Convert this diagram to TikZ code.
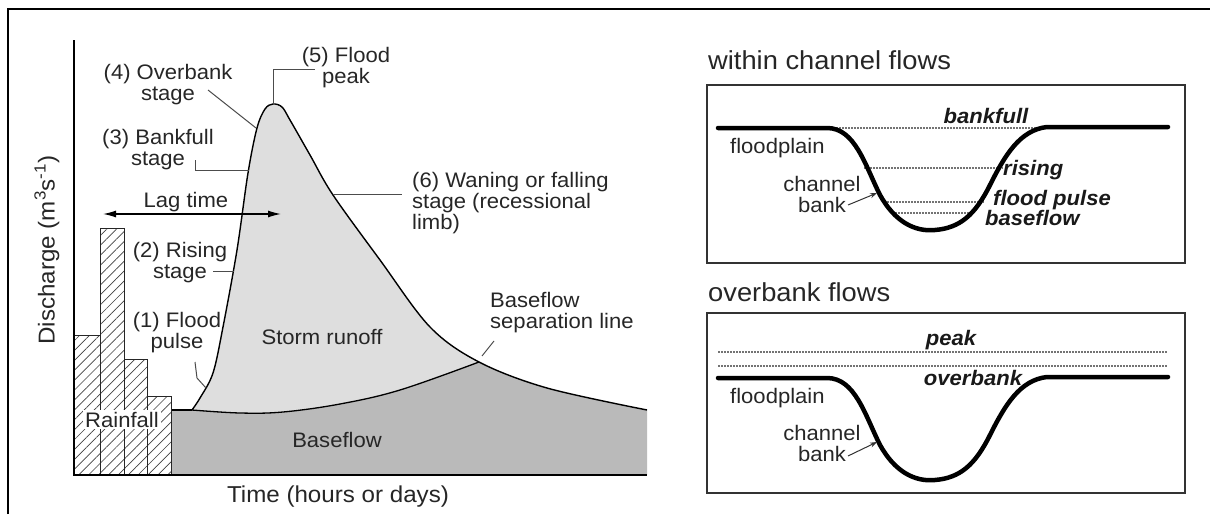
\documentclass[tikz,border=0pt]{standalone}
\usepackage{fontspec}
\setmainfont{Liberation Sans}[FakeStretch=1.05]
\usetikzlibrary{arrows.meta, patterns.meta}

\tikzset{
  % hydrograph, baseflow separation and channel cross-section (pixel units, y down)
  hydroline/.style={insert path={-- plot[smooth, tension=0.55] coordinates {(192,410) (200,398) (213,373) (223,327) (237,250) (248,173) (257,128) (265,109) (273,104) (282,107) (290,120) (310,155) (333,195) (380,260) (430,327) (479,362) (547,388) (647,410)}}},
  sepline/.style={insert path={-- plot[smooth, tension=0.6] coordinates {(192,410) (240,413) (283,412) (340,404) (400,390) (479,362)}}},
  bedline/.style={insert path={-- (827,128) .. controls (855,128) and (865,165) .. (880,195) .. controls (895,222) and (915,232) .. (935,230) .. controls (960,228) and (975,215) .. (990,185) .. controls (1005,155) and (1020,130) .. (1047,127) -- (1168,127)}},
  lbl/.style={font=\fontsize{21}{21}\selectfont, text=black!85, inner sep=0pt, align=center},
  lbll/.style={lbl, align=left},
  flowtag/.style={lbl, font=\fontsize{21}{21}\selectfont\bfseries\itshape, text=black!90},
  leader/.style={draw=black!70, line width=1pt},
  profile/.style={line width=4.5pt, line cap=round, line join=round},
  waterline/.style={draw=black!55, line width=1.2pt, dash pattern=on 1.5pt off 1.5pt},
  panel/.style={draw=black!80, line width=1.5pt},
  hatchbar/.style={draw=black!85, line width=1pt, pattern={Lines[angle=45,distance=7pt,line width=0.7pt]}, pattern color=black!75},
  bankarrow/.style={draw=black!80, line width=1pt, -{Stealth[length=7pt,width=5pt]}},
}

\begin{document}
\begin{tikzpicture}[x=1pt, y=-1pt]
    \useasboundingbox (0,0) rectangle (1210,514);
    \draw[line width=2pt] (8,514) -- (8,9) -- (1210,9);

    % --- HYDROGRAPH (LEFT) ---
    \fill[black!27] (171,475) -- (171,410) [hydroline] -- (647,475) -- cycle;
    \begin{scope}
        \clip (192,410) [sepline] -- (479,40) -- (192,40) -- cycle;
        \fill[black!13] (171,475) -- (171,410) [hydroline] -- (647,475) -- cycle;
    \end{scope}
    \draw[line width=1.2pt] (171,410) -- (192,410);
    \draw[line width=1.3pt] (192,410) [sepline];
    \draw[line width=1.4pt, line join=round] (192,410) [hydroline];

    % Rainfall bars
    \foreach \xa/\xb/\barh in {74/100/335, 100/124/228, 124/147/359, 147/171/396}
        \draw[hatchbar] (\xa,475) rectangle (\xb,\barh);
    \draw[line width=1.8pt] (74,40) -- (74,475) -- (647,475);

    \node[lbl, anchor=base, fill=white, inner sep=2pt] (rain) at (122,427) {Rainfall};
    \node[lbl, anchor=base] (storm) at (322,344) {Storm runoff};
    \node[lbl, anchor=base] (base) at (337,447) {Baseflow};
    \node[lbl, anchor=base, font=\fontsize{23}{23}\selectfont] (time) at (338,502) {Time (hours or days)};
    \node[lbl, rotate=90, font=\fontsize{23}{23}\selectfont] (disch) at (47,250) {Discharge (m\textsuperscript{3}s\textsuperscript{-1})};

    % Stage labels
    \node[lbl, anchor=north] (ovb) at (168,64) {(4) Overbank\\stage};
    \node[lbl, anchor=north] (pk) at (346,47) {(5) Flood\\peak};
    \node[lbl, anchor=north] (bkf) at (158,129) {(3) Bankfull\\stage};
    \node[lbl, anchor=base] (lag) at (186,207) {Lag time};
    \node[lbl, anchor=north] (rise) at (180,242) {(2) Rising\\stage};
    \node[lbl, anchor=north] (pulse) at (177,312) {(1) Flood\\pulse};
    \node[lbll, anchor=north west] (wane) at (412,172) {(6) Waning or falling\\stage (recessional\\limb)};
    \node[lbll, anchor=north west] (sepl) at (490,292) {Baseflow\\separation line};

    % Leader lines
    \coordinate (ovbA) at (208,90);   \coordinate (ovbB) at (256,128);
    \coordinate (pkA) at (273,104);   \coordinate (pkB) at (315,69);
    \coordinate (bkfA) at (195,160);  \coordinate (bkfB) at (249,170);
    \coordinate (riseA) at (213,271); \coordinate (riseB) at (234,271);
    \coordinate (pulseA) at (195,362); \coordinate (pulseB) at (206,388);
    \coordinate (waneA) at (333,194); \coordinate (waneB) at (402,194);
    \coordinate (sepA) at (482,356);  \coordinate (sepB) at (494,341);
    \draw[leader] (ovbA) -- (ovbB);
    \draw[leader] (pkA) |- (pkB);
    \draw[leader] (bkfA) |- (bkfB);
    \draw[leader] (riseA) -- (riseB);
    \draw[leader] (pulseA) -- (197,378) -- (pulseB);
    \draw[leader] (waneA) -- (waneB);
    \draw[leader] (sepA) -- (sepB);

    \coordinate (lagL) at (103,214); \coordinate (lagR) at (281,214);
    \draw[line width=1.3pt, {Latex[length=13pt,width=7pt]}-{Latex[length=13pt,width=7pt]}] (lagL) -- (lagR);

    % --- WITHIN CHANNEL FLOWS (TOP RIGHT) ---
    \node[lbl, anchor=base west, font=\fontsize{26}{26}\selectfont] (title1) at (708,69) {within channel flows};
    \draw[panel] (707,85) rectangle (1185,263);
    \draw[waterline] (827,128) -- (1047,128);
    \draw[waterline] (864,168) -- (1003,168);
    \draw[waterline] (884,202) -- (984,202);
    \draw[waterline] (895,213) -- (971,213);
    \draw[profile] (718,128) [bedline];
    \node[flowtag, anchor=base] (bkfull) at (986,123) {bankfull};
    \node[flowtag, anchor=base west] (rising) at (1003,175) {rising};
    \node[flowtag, anchor=base west] (fpulse) at (993,205) {flood pulse};
    \node[flowtag, anchor=base west] (bflow) at (985,225) {baseflow};
    \node[lbl, anchor=base west] (fplain1) at (730,153) {floodplain};
    \node[lbl, anchor=north] (cbank1) at (822,176) {channel\\bank};
    \coordinate (cb1A) at (848,205); \coordinate (cb1B) at (877,193);
    \draw[bankarrow] (cb1A) -- (cb1B);

    % --- OVERBANK FLOWS (BOTTOM RIGHT) ---
    \node[lbl, anchor=base west, font=\fontsize{26}{26}\selectfont] (title2) at (708,301) {overbank flows};
    \draw[panel] (707,313) rectangle (1185,493);
    \draw[waterline] (718,352) -- (1167,352);
    \draw[waterline] (718,366) -- (1167,366);
    \draw[profile, shift={(0,250)}] (718,128) [bedline];
    \node[flowtag, anchor=base] (peak) at (951,345) {peak};
    \node[flowtag, anchor=base] (ovbank) at (973,385) {overbank};
    \node[lbl, anchor=base west] (fplain2) at (730,403) {floodplain};
    \node[lbl, anchor=north] (cbank2) at (822,425) {channel\\bank};
    \coordinate (cb2A) at (848,456); \coordinate (cb2B) at (877,442);
    \draw[bankarrow] (cb2A) -- (cb2B);
\end{tikzpicture}
\end{document}
